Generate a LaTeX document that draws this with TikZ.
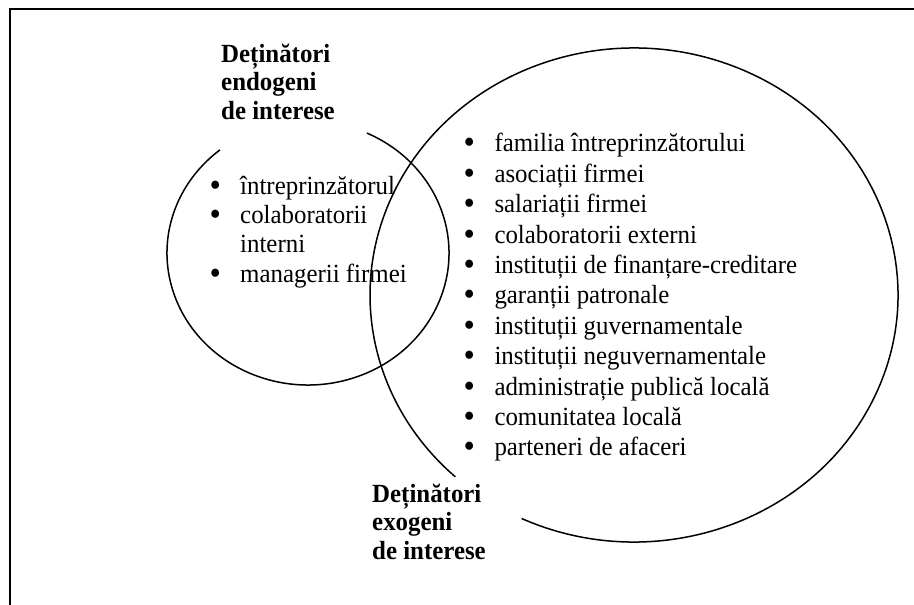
\documentclass[tikz,border=0pt]{standalone}
\usepackage{fontspec}
\usepackage{graphicx}
\setmainfont[FakeStretch=0.95]{Liberation Serif}
\usetikzlibrary{calc}

% bullet with fixed gap to the item text
\newcommand{\bul}[1]{\makebox[#1][l]{\raisebox{-2pt}{\scalebox{1.3}{\textbullet}}}}

\begin{document}
\begin{tikzpicture}[
  x=1pt, y=1pt,
  font=\fontsize{26.2pt}{30.4pt}\selectfont,
  ring/.style={line width=1.5pt},
  frame/.style={line width=2pt},
  title/.style={anchor=north west, inner sep=0pt,
    font=\fontsize{26.2pt}{28.5pt}\selectfont\bfseries},
  items/.style={anchor=north west, inner sep=0pt},
]
  \useasboundingbox (0,0) rectangle (914,-605);
  \draw[frame] (914,-8.5) -| (10,-605);

  % endogenous set
  \coordinate (cin) at (308,-253);
  \draw[ring] ($(cin)+(65.3:141 and 132)$)
    arc[start angle=65.3, end angle=-231.4, x radius=141, y radius=132];

  % exogenous set
  \coordinate (cout) at (634,-295);
  \draw[ring] ($(cout)+(244.8:264 and 247)$)
    arc[start angle=244.8, end angle=587.4, x radius=264, y radius=247];

  \node[title] (endo) at (221,-42) {\begin{tabular}{@{}l@{}}
    Deținători\\endogeni\\de interese\end{tabular}};
  \node[title] (exo) at (372,-482) {\begin{tabular}{@{}l@{}}
    Deținători\\exogeni\\de interese\end{tabular}};

  \node[items, font=\fontsize{26.2pt}{29.3pt}\selectfont] (inlist) at (209.5,-173.5)
    {\begin{tabular}{@{}l@{}l@{}}
      \bul{30.5pt} & întreprinzătorul\\
      \bul{30.5pt} & colaboratorii\\
                   & interni\\
      \bul{30.5pt} & managerii firmei
    \end{tabular}};

  \node[items] (outlist) at (463.5,-130.4)
    {\begin{tabular}{@{}l@{}l@{}}
      \bul{30.8pt} & familia întreprinzătorului\\
      \bul{30.8pt} & asociații firmei\\
      \bul{30.8pt} & salariații firmei\\
      \bul{30.8pt} & colaboratorii externi\\
      \bul{30.8pt} & instituții de finanțare-creditare\\
      \bul{30.8pt} & garanții patronale\\
      \bul{30.8pt} & instituții guvernamentale\\
      \bul{30.8pt} & instituții neguvernamentale\\
      \bul{30.8pt} & administrație publică locală\\
      \bul{30.8pt} & comunitatea locală\\
      \bul{30.8pt} & parteneri de afaceri
    \end{tabular}};
\end{tikzpicture}
\end{document}
